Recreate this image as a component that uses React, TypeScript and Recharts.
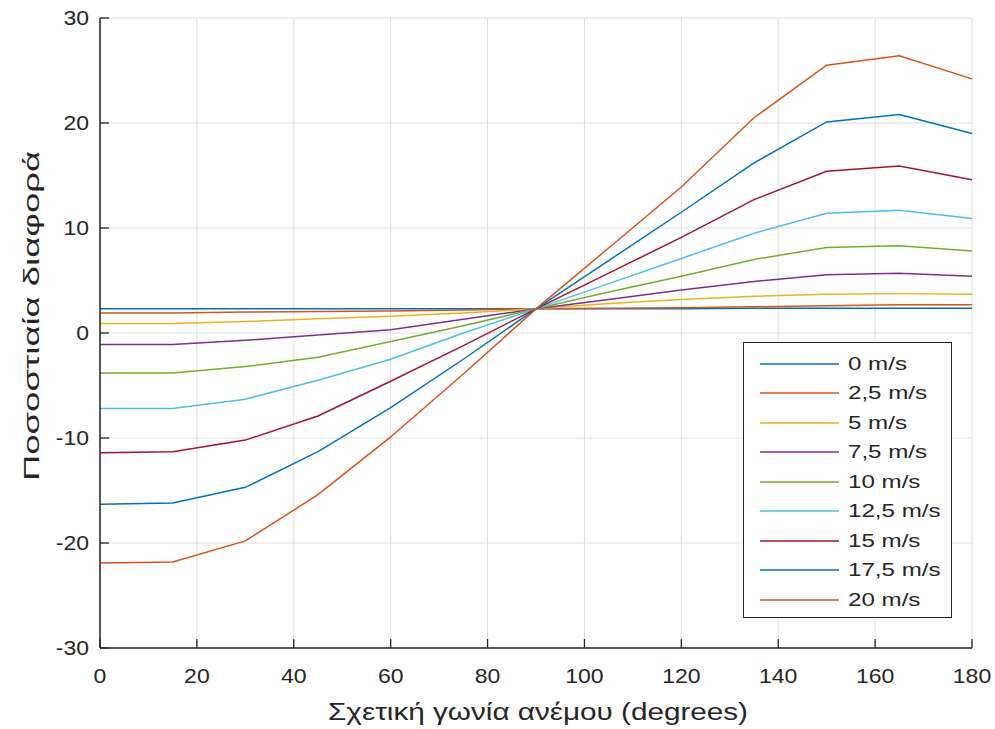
import { LineChart, Line, XAxis, YAxis, CartesianGrid, Legend } from "recharts"

const angles = [0, 15, 30, 45, 60, 75, 90, 105, 120, 135, 150, 165, 180]

const speedLabels = ["0 m/s", "2,5 m/s", "5 m/s", "7,5 m/s", "10 m/s", "12,5 m/s", "15 m/s", "17,5 m/s", "20 m/s"]

const s0 = [2.3, 2.3, 2.3, 2.3, 2.3, 2.3, 2.3, 2.3, 2.3, 2.35, 2.35, 2.35, 2.35]
const s25 = [1.9, 1.9, 2.0, 2.05, 2.1, 2.2, 2.3, 2.35, 2.4, 2.5, 2.6, 2.7, 2.7]
const s5 = [0.9, 0.9, 1.1, 1.35, 1.6, 1.9, 2.3, 2.8, 3.2, 3.5, 3.7, 3.75, 3.7]
const s75 = [-1.1, -1.1, -0.7, -0.2, 0.3, 1.3, 2.3, 3.2, 4.1, 4.9, 5.55, 5.7, 5.4]
const s10 = [-3.8, -3.8, -3.2, -2.3, -0.8, 0.7, 2.3, 3.9, 5.4, 7.0, 8.15, 8.3, 7.8]
const s125 = [-7.2, -7.2, -6.3, -4.5, -2.5, 0.0, 2.3, 4.7, 7.1, 9.5, 11.4, 11.7, 10.9]
const s15 = [-11.4, -11.3, -10.2, -7.9, -4.6, -1.2, 2.3, 5.7, 9.1, 12.7, 15.4, 15.9, 14.6]
const s175 = [-16.3, -16.2, -14.7, -11.3, -7.1, -2.5, 2.3, 6.9, 11.5, 16.2, 20.1, 20.8, 19.0]
const s20 = [-21.9, -21.8, -19.8, -15.4, -9.9, -3.9, 2.3, 8.1, 13.9, 20.5, 25.5, 26.4, 24.2]

const xTicks = [0, 20, 40, 60, 80, 100, 120, 140, 160, 180]
const yTicks = [-30, -20, -10, 0, 10, 20, 30]

// matlab default order, wraps after 7
const colors = ["#0072BD", "#D95319", "#EDB120", "#7E2F8E", "#77AC30", "#4DBEEE", "#A2142F", "#0072BD", "#D95319"]

const allSeries = [s0, s25, s5, s75, s10, s125, s15, s175, s20]

const data = angles.map((a, i) => {
  const row: Record<string, number> = { angle: a }
  allSeries.forEach((s, k) => {
    row["s" + k] = s[i]
  })
  return row
})

const ink = "#262626"
const font = "'Liberation Sans', Arial, sans-serif"

const PLOT_LEFT = 100
const PLOT_BOTTOM = 648

function XTick(props: any) {
  const { x, payload } = props
  return (
    <g>
      <line x1={x} x2={x} y1={PLOT_BOTTOM} y2={PLOT_BOTTOM - 9} stroke={ink} strokeWidth={1.3} />
      <text
        transform={`translate(${x},683) scale(1.15,1)`}
        textAnchor="middle"
        fontSize={20}
        fill={ink}
        fontFamily={font}
      >
        {payload.value}
      </text>
    </g>
  )
}

function YTick(props: any) {
  const { y, payload } = props
  return (
    <g>
      <line x1={PLOT_LEFT} x2={PLOT_LEFT + 9} y1={y} y2={y} stroke={ink} strokeWidth={1.3} />
      <text
        transform={`translate(89,${y + 7}) scale(1.15,1)`}
        textAnchor="end"
        fontSize={20}
        fill={ink}
        fontFamily={font}
      >
        {payload.value}
      </text>
    </g>
  )
}

function LegendBox(props: any) {
  const items = [...(props.payload || [])].sort(
    (a: any, b: any) => speedLabels.indexOf(a.value) - speedLabels.indexOf(b.value)
  )
  return (
    <div
      style={{
        border: `1.5px solid ${ink}`,
        background: "#fff",
        padding: "6px 0 4px 0",
        boxSizing: "border-box",
        width: 209,
        height: 276,
        fontFamily: font,
        fontSize: 19,
        color: ink,
      }}
    >
      {items.map((it: any) => (
        <div key={it.value} style={{ display: "flex", alignItems: "center", height: 29.5 }}>
          <svg width={96} height={10} style={{ flex: "none" }}>
            <line x1={16} x2={95} y1={5} y2={5} stroke={it.color} strokeWidth={1.5} />
          </svg>
          <span
            style={{
              marginLeft: 8,
              display: "inline-block",
              transform: "scaleX(1.27)",
              transformOrigin: "left center",
              whiteSpace: "nowrap",
            }}
          >
            {it.value}
          </span>
        </div>
      ))}
    </div>
  )
}

export default function App() {
  return (
    <div style={{ position: "absolute", left: 0, top: 0, width: 995, height: 729, background: "#fff" }}>
      <LineChart width={995} height={729} data={data} margin={{ top: 18, right: 23, bottom: 51, left: 40 }}>
        <CartesianGrid stroke="#dedede" strokeWidth={1} />
        <XAxis
          dataKey="angle"
          type="number"
          domain={[0, 180]}
          ticks={xTicks}
          height={30}
          tick={<XTick />}
          tickLine={false}
          axisLine={{ stroke: ink, strokeWidth: 1.5 }}
          interval={0}
        />
        <YAxis
          type="number"
          domain={[-30, 30]}
          ticks={yTicks}
          width={60}
          tick={<YTick />}
          tickLine={false}
          axisLine={{ stroke: ink, strokeWidth: 1.5 }}
          interval={0}
        />
        <Legend
          layout="vertical"
          align="center"
          verticalAlign="middle"
          itemSorter={null as any}
          wrapperStyle={{ position: "absolute", left: 743, top: 342, width: 209 }}
          content={<LegendBox />}
        />
        {allSeries.map((_, k) => (
          <Line
            key={k}
            dataKey={"s" + k}
            name={speedLabels[k]}
            type="linear"
            stroke={colors[k]}
            strokeWidth={1.5}
            dot={false}
            isAnimationActive={false}
          />
        ))}
        <text
          x={538}
          y={720}
          textAnchor="middle"
          fontSize={23}
          textLength={420}
          lengthAdjust="spacingAndGlyphs"
          fill={ink}
          fontFamily={font}
        >
          Σχετική γωνία ανέμου (degrees)
        </text>
        <text
          x={0}
          y={0}
          transform="translate(39,316) rotate(-90)"
          textAnchor="middle"
          fontSize={22}
          textLength={330}
          lengthAdjust="spacingAndGlyphs"
          fill={ink}
          fontFamily={font}
        >
          Ποσοστιαία διαφορά
        </text>
      </LineChart>
    </div>
  )
}
